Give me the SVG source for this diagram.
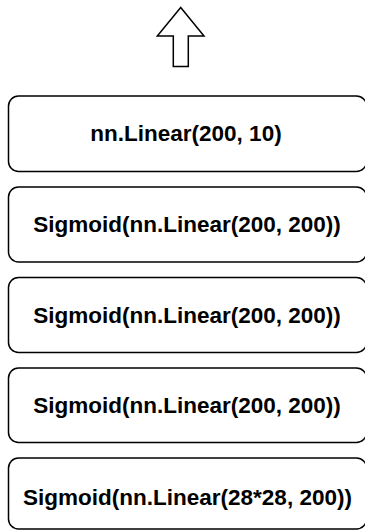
<svg xmlns="http://www.w3.org/2000/svg" width="365" height="531" viewBox="0 0 365 531">
<style>
.box{fill:#fff;stroke:#000;stroke-width:1.5}
.lbl{font-family:"Liberation Sans",Arial,sans-serif;font-weight:bold;font-size:22.5px;fill:#000;text-anchor:middle}
.arrow{fill:#fff;stroke:#000;stroke-width:1.5;stroke-linejoin:miter}
</style>
<rect width="365" height="531" fill="#fff"/>
<g id="connectors">
<polygon class="arrow" points="180.7,7.5 157.3,36 173.3,36 173.3,66.5 188.3,66.5 188.3,36 204,36"/>
</g>
<g id="node1">
<rect class="box" x="8.5" y="96" width="358" height="75.5" rx="10" ry="10"/>
<text class="lbl" x="186" y="141">nn.Linear(200, 10)</text>
</g>
<g id="node2">
<rect class="box" x="8.5" y="187" width="358" height="75" rx="10" ry="10"/>
<text class="lbl" x="187" y="232">Sigmoid(nn.Linear(200, 200))</text>
</g>
<g id="node3">
<rect class="box" x="8.5" y="277.5" width="358" height="75" rx="10" ry="10"/>
<text class="lbl" x="187" y="322.5">Sigmoid(nn.Linear(200, 200))</text>
</g>
<g id="node4">
<rect class="box" x="8.5" y="368" width="358" height="74.5" rx="10" ry="10"/>
<text class="lbl" x="187" y="413">Sigmoid(nn.Linear(200, 200))</text>
</g>
<g id="node5">
<rect class="box" x="8.5" y="458" width="358" height="71" rx="10" ry="10"/>
<text class="lbl" x="187.5" y="505">Sigmoid(nn.Linear(28*28, 200))</text>
</g>
</svg>
